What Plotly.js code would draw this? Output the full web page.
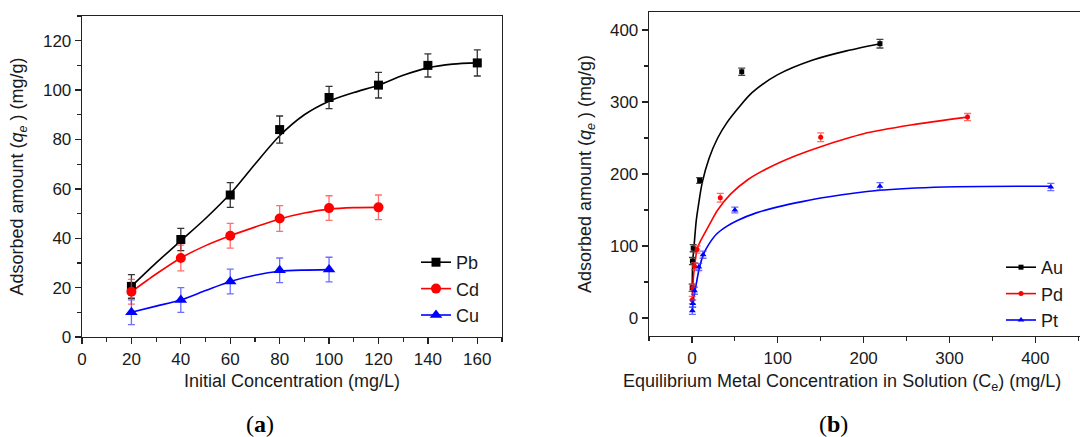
<!DOCTYPE html>
<html>
<head>
<meta charset="utf-8">
<script src="https://cdn.plot.ly/plotly-3.0.1.min.js"></script>
<style>
html,body{margin:0;padding:0;background:#fff;overflow:hidden;}
#chart{width:1080px;height:437px;}
</style>
</head>
<body>
<div id="chart"></div>
<script>
// ---------- Panel (a) data ----------
const concA = [20, 40, 60, 80, 100, 120, 140, 160];
const pbQ   = [20.5, 39.5, 57.5, 84, 97, 102, 110, 111];
const pbErr = [4.8, 4.5, 5, 5.5, 4.5, 5.2, 4.7, 5.3];
const cdConc = [20, 40, 60, 80, 100, 120];
const cdQ    = [18.3, 32, 41, 48, 52.2, 52.5];
const cdErr  = [5, 5.2, 5, 5.2, 5, 5];
const cuConc = [20, 40, 60, 80, 100];
const cuQ    = [10, 15, 22.5, 27, 27.3];
const cuErr  = [5, 5, 5, 5, 5];

// ---------- Panel (a) smooth curves ----------
const pbFitC = [20, 30, 40, 50, 60, 70, 80, 90, 100, 110, 120, 130, 140, 150, 160];
const pbFitQ = [20.5, 30, 39, 48, 58, 70, 81.5, 90, 95.5, 99, 102, 106, 109, 110.5, 111];
const cdFitC = [20, 30, 40, 50, 60, 70, 80, 90, 100, 110, 120];
const cdFitQ = [18.3, 25.5, 32, 37, 41, 44.5, 47.8, 50.2, 51.8, 52.4, 52.5];
const cuFitC = [20, 30, 40, 50, 60, 70, 80, 90, 100];
const cuFitQ = [10, 12.5, 15, 18.8, 22.5, 25, 26.6, 27.1, 27.3];

// ---------- Panel (b) data (points) ----------
const auC = [0.3, 0.6, 1.5, 9, 58, 219];
const auQ = [42, 79, 97, 191, 342, 381];
const auErr = [5, 5, 5, 4, 5, 6];
const pdC = [0.4, 1, 3, 6, 33, 150, 321];
const pdQ = [25, 42, 72, 95, 167, 251, 279];
const pdErr = [5, 5, 5, 5, 6, 6, 5];
const ptC = [0.5, 1, 3, 8, 13, 50, 219, 418];
const ptQ = [10, 20, 38, 71, 88, 150, 183, 182];
const ptErr = [5, 5, 5, 5, 5, 4, 5, 5];

// ---------- Panel (b) fitted curves ----------
const auFitC = [0.3, 1, 2.5, 5, 8, 12, 20, 30, 40, 55, 70, 100, 140, 180, 219];
const auFitQ = [40, 80, 100, 135, 160, 188, 222, 250, 270, 293, 313, 338, 358, 371, 381];
const pdFitC = [0.4, 1, 2, 4, 6, 10, 20, 30, 45, 65, 90, 120, 150, 200, 255, 321];
const pdFitQ = [24, 42, 60, 80, 96, 107, 129, 150, 172, 192, 209, 225, 238, 256, 268, 279];
const ptFitC = [0.5, 1, 2, 4, 8, 13.6, 20, 29, 40, 53, 75, 99, 130, 158, 216, 294, 418];
const ptFitQ = [10, 18, 28, 40, 66, 89, 103, 117, 127, 135.5, 146, 154, 162, 168, 177, 182, 183];

const FONT = 'Liberation Sans, Arial, sans-serif';
const TXT = '#1a1a1a';

function ptsTrace(x, y, err, color, ecolor, symbol, size, xa, ya) {
  return {
    x: x, y: y, type: 'scatter', mode: 'markers', showlegend: false,
    xaxis: xa, yaxis: ya,
    marker: {color: color, symbol: symbol, size: size},
    error_y: {type: 'data', array: err, visible: true, color: ecolor, thickness: 1.3, width: 3.5}
  };
}
function curveTrace(x, y, color, xa, ya, sm) {
  return {
    x: x, y: y, type: 'scatter', mode: 'lines', showlegend: false, hoverinfo: 'skip',
    xaxis: xa, yaxis: ya, line: {color: color, width: 1.6, shape: 'spline', smoothing: sm}
  };
}
function legendTrace(name, color, symbol, size, xa, ya, leg) {
  return {
    x: [null], y: [null], type: 'scatter', mode: 'lines+markers', name: name,
    xaxis: xa, yaxis: ya, legend: leg,
    line: {color: color, width: 1.6}, marker: {color: color, symbol: symbol, size: size}
  };
}

const traces = [
  curveTrace(pbFitC, pbFitQ, '#000000', 'x', 'y', 0.8),
  curveTrace(cdFitC, cdFitQ, '#ff0000', 'x', 'y', 0.8),
  curveTrace(cuFitC, cuFitQ, '#0000ff', 'x', 'y', 0.8),
  ptsTrace(concA, pbQ, pbErr, '#000000', '#333333', 'square', 9, 'x', 'y'),
  ptsTrace(cdConc, cdQ, cdErr, '#ff0000', 'rgba(255,60,60,0.75)', 'circle', 10, 'x', 'y'),
  ptsTrace(cuConc, cuQ, cuErr, '#0000ff', 'rgba(60,60,255,0.75)', 'triangle-up', 11, 'x', 'y'),
  legendTrace('Pb', '#000000', 'square', 9, 'x', 'y', 'legend'),
  legendTrace('Cd', '#ff0000', 'circle', 10, 'x', 'y', 'legend'),
  legendTrace('Cu', '#0000ff', 'triangle-up', 11, 'x', 'y', 'legend'),
  curveTrace(auFitC, auFitQ, '#000000', 'x2', 'y2', 0.8),
  curveTrace(pdFitC, pdFitQ, '#ff0000', 'x2', 'y2', 0.8),
  curveTrace(ptFitC, ptFitQ, '#0000ff', 'x2', 'y2', 0.8),
  ptsTrace(auC, auQ, auErr, '#000000', '#444444', 'square', 5, 'x2', 'y2'),
  ptsTrace(pdC, pdQ, pdErr, '#ff0000', 'rgba(255,60,60,0.75)', 'circle', 5, 'x2', 'y2'),
  ptsTrace(ptC, ptQ, ptErr, '#0000ff', 'rgba(60,60,255,0.75)', 'triangle-up', 6, 'x2', 'y2'),
  legendTrace('Au', '#000000', 'square', 5, 'x2', 'y2', 'legend2'),
  legendTrace('Pd', '#ff0000', 'circle', 5, 'x2', 'y2', 'legend2'),
  legendTrace('Pt', '#0000ff', 'triangle-up', 6, 'x2', 'y2', 'legend2')
];

const W = 1080, H = 437;
const px = v => v / W;
const py = v => (H - v) / H;

const axisCommon = {
  showgrid: false, zeroline: false, showline: true, linecolor: '#222', linewidth: 1.3,
  ticks: 'outside', ticklen: 6, tickwidth: 1.3, tickcolor: '#222',
  tickfont: {family: FONT, size: 17, color: TXT}, mirror: true
};
const titleFont = s => ({family: FONT, size: s, color: TXT});

const layout = {
  width: W, height: H,
  margin: {l: 0, r: 0, t: 0, b: 0},
  paper_bgcolor: '#fff', plot_bgcolor: '#fff',
  font: {family: FONT, size: 17, color: TXT},
  xaxis: Object.assign({}, axisCommon, {
    domain: [px(82), px(502)], range: [0, 170], dtick: 20, tick0: 0, anchor: 'y',
    title: {text: 'Initial Concentration (mg/L)', font: titleFont(18), standoff: 6},
    minor: {dtick: 10, ticks: 'outside', ticklen: 3.5, tickwidth: 1.2, tickcolor: '#222'}
  }),
  yaxis: Object.assign({}, axisCommon, {
    domain: [py(337), py(16)], range: [0, 130], dtick: 20, tick0: 0, anchor: 'x',
    title: {text: 'Adsorbed amount (<i>q</i><sub><i>e</i></sub> ) (mg/g)', font: titleFont(18), standoff: 14},
    minor: {dtick: 10, ticks: 'outside', ticklen: 3.5, tickwidth: 1.2, tickcolor: '#222'}
  }),
  xaxis2: Object.assign({}, axisCommon, {
    domain: [px(649), 1], range: [-50, 452], dtick: 100, tick0: 0, anchor: 'y2',
    minor: {dtick: 50, ticks: 'outside', ticklen: 4, tickwidth: 1.2, tickcolor: '#222'}
  }),
  yaxis2: Object.assign({}, axisCommon, {
    domain: [py(336), py(12)], range: [-25, 425], dtick: 100, tick0: 0, anchor: 'x2', mirror: false,
    title: {text: 'Adsorbed amount (<i>q</i><sub><i>e</i></sub> ) (mg/g)', font: titleFont(18), standoff: 13},
    minor: {dtick: 50, ticks: 'outside', ticklen: 4, tickwidth: 1.2, tickcolor: '#222'}
  }),
  legend: {
    x: px(416), y: py(244), xanchor: 'left', yanchor: 'top',
    bgcolor: 'rgba(0,0,0,0)', font: {family: FONT, size: 18, color: TXT},
    tracegroupgap: 0
  },
  legend2: {
    x: px(1001), y: py(249), xanchor: 'left', yanchor: 'top',
    bgcolor: 'rgba(0,0,0,0)', font: {family: FONT, size: 18, color: TXT},
    tracegroupgap: 0
  },
  annotations: [
    {text: 'Equilibrium Metal Concentration in Solution (C<sub>e</sub>) (mg/L)', x: px(621), y: py(382),
     xref: 'paper', yref: 'paper', xanchor: 'left', yanchor: 'middle', showarrow: false,
     font: titleFont(18)},
    {text: '(<b>a</b>)', x: px(260), y: py(424), xref: 'paper', yref: 'paper', xanchor: 'center', yanchor: 'middle',
     showarrow: false, font: {family: 'Liberation Serif, Times New Roman, serif', size: 24, color: '#000'}},
    {text: '(<b>b</b>)', x: px(833), y: py(424), xref: 'paper', yref: 'paper', xanchor: 'center', yanchor: 'middle',
     showarrow: false, font: {family: 'Liberation Serif, Times New Roman, serif', size: 24, color: '#000'}}
  ]
};

Plotly.newPlot('chart', traces, layout, {displayModeBar: false, staticPlot: true});
</script>
</body>
</html>
